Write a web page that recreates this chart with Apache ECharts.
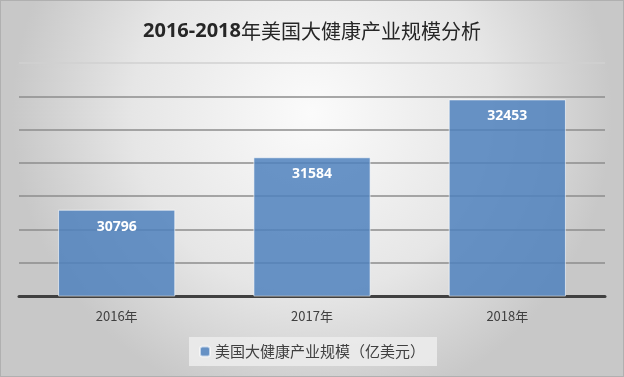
<!DOCTYPE html>
<html>
<head>
<meta charset="utf-8">
<script src="https://cdn.jsdelivr.net/npm/echarts@6/dist/echarts.min.js"></script>
<style>
  html, body { margin: 0; padding: 0; }
  #main { width: 624px; height: 377px; box-sizing: border-box; border: 1px solid #b0b0b0; }
</style>
</head>
<body>
<div id="main"></div>
<script>
// 数据
var years = ['2016年', '2017年', '2018年']
var scale = [30796, 31584, 32453]
var seriesName = '美国大健康产业规模（亿美元）'

var chart = echarts.init(document.getElementById('main'))

var option = {
  backgroundColor: {
    type: 'radial', x: 0.5, y: 0.3, r: 0.8,
    colorStops: [
      { offset: 0, color: '#fbfbfb' },
      { offset: 0.6, color: '#e6e6e6' },
      { offset: 1, color: '#c8c8c8' }
    ]
  },
  title: {
    text: '{b|2016-2018}{n|年美国大健康产业规模分析}',
    left: 'center',
    top: 15,
    textStyle: {
      rich: {
        b: { fontFamily: 'Noto Sans', fontSize: 20, fontWeight: 'bold', color: '#262626' },
        n: { fontFamily: 'Noto Sans CJK SC', fontSize: 20, fontWeight: 'normal', color: '#262626' }
      }
    }
  },
  grid: { left: 18, right: 18, top: 62, bottom: 80 },
  legend: {
    bottom: 10,
    left: 'center',
    itemWidth: 10,
    itemHeight: 10,
    itemGap: 6,
    padding: [7, 12, 7, 10],
    backgroundColor: 'rgba(235,235,235,0.9)',
    textStyle: { fontFamily: 'Noto Sans CJK SC', fontSize: 15, color: '#404040' },
    data: [seriesName]
  },
  xAxis: {
    type: 'category',
    data: years,
    axisLine: { lineStyle: { color: '#404040', width: 3 } },
    axisTick: { show: false },
    axisLabel: { fontFamily: 'Noto Sans CJK SC', fontSize: 13, color: '#404040', margin: 14 }
  },
  yAxis: {
    type: 'value',
    min: 29500,
    max: 33000,
    interval: 500,
    axisLabel: { show: false },
    axisLine: { show: false },
    axisTick: { show: false },
    splitLine: {
      lineStyle: {
        color: ['#8c8c8c', '#8c8c8c', '#8c8c8c', '#8c8c8c', '#8c8c8c', '#8c8c8c', '#8c8c8c', '#d0d0d0'],
        width: 1.5
      }
    }
  },
  series: [{
    name: seriesName,
    type: 'bar',
    data: scale,
    barWidth: '60%',
    itemStyle: {
      color: 'rgba(79,129,189,0.85)',
      borderColor: 'rgba(255,255,255,0.6)',
      borderWidth: 1
    },
    label: {
      show: true,
      position: 'insideTop',
      distance: 10,
      color: '#ffffff',
      fontFamily: 'Noto Sans',
      fontWeight: 'bold',
      fontSize: 14
    }
  }]
}

chart.setOption(option)
</script>
</body>
</html>
